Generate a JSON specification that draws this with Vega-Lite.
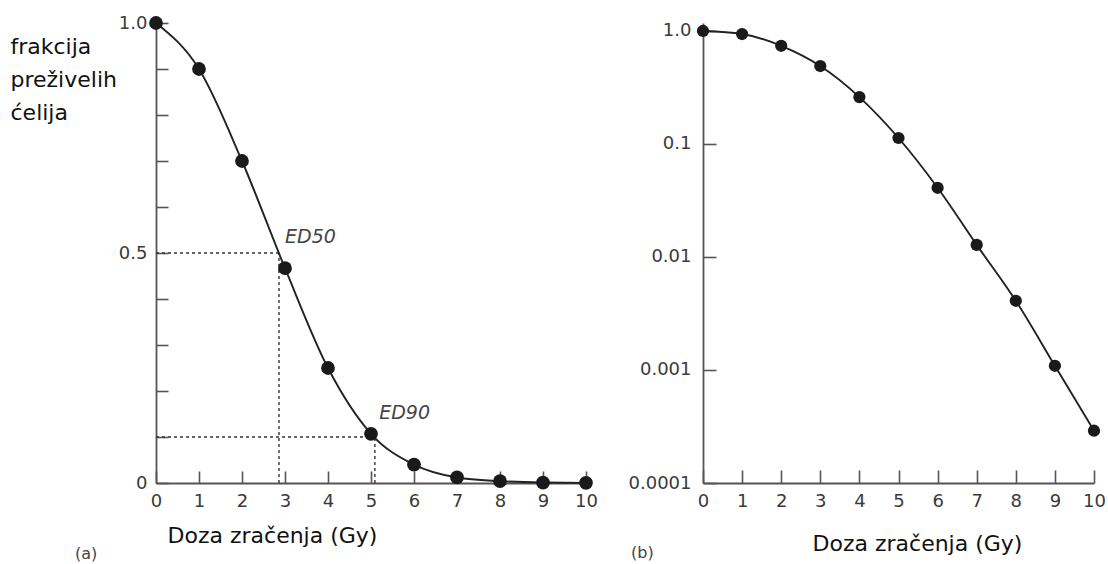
{
  "$schema": "https://vega.github.io/schema/vega-lite/v6.json",
  "padding": {"left": 10, "top": 14, "right": 0, "bottom": 0},
  "spacing": 30,
  "background": "white",
  "config": {
    "view": {"stroke": null},
    "axis": {
      "grid": false,
      "labelFlush": false,
      "domainColor": "#555",
      "domainWidth": 1.8,
      "tickColor": "#555",
      "tickWidth": 1.6,
      "labelFont": "DejaVu Sans",
      "labelFontSize": 18,
      "labelColor": "#3a3a3a",
      "titleFont": "DejaVu Sans",
      "titleFontSize": 22,
      "titleFontWeight": "normal",
      "titleColor": "#111"
    }
  },
  "resolve": {"scale": {"x": "independent", "y": "independent"}},
  "datasets": {
    "surv": [
      {"dose": 0, "a": 1.0, "b": 1.0},
      {"dose": 1, "a": 0.9, "b": 0.94},
      {"dose": 2, "a": 0.7, "b": 0.74},
      {"dose": 3, "a": 0.467, "b": 0.49},
      {"dose": 4, "a": 0.25, "b": 0.26},
      {"dose": 5, "a": 0.107, "b": 0.113},
      {"dose": 6, "a": 0.04, "b": 0.041},
      {"dose": 7, "a": 0.012, "b": 0.0128},
      {"dose": 8, "a": 0.004, "b": 0.0041},
      {"dose": 9, "a": 0.001, "b": 0.00109},
      {"dose": 10, "a": 0.0003, "b": 0.00029}
    ],
    "guides": [
      {"x": 0, "x2": 2.86, "y": 0.5, "y2": 0.5},
      {"x": 2.86, "x2": 2.86, "y": 0, "y2": 0.5},
      {"x": 0, "x2": 5.09, "y": 0.1, "y2": 0.1},
      {"x": 5.09, "x2": 5.09, "y": 0, "y2": 0.1}
    ],
    "ed": [
      {"label": "ED50", "dose": 3.0, "frac": 0.522},
      {"label": "ED90", "dose": 5.19, "frac": 0.139}
    ]
  },
  "hconcat": [
    {
      "width": 430,
      "height": 460,
      "title": {"text": "(a)", "orient": "bottom", "anchor": "start", "frame": "bounds", "offset": 0, "dx": 65, "font": "DejaVu Sans", "fontSize": 16, "fontWeight": "normal", "color": "#444"},
      "layer": [
        {
          "data": {"name": "guides"},
          "mark": {"type": "rule", "strokeDash": [3, 3], "strokeWidth": 1.4, "color": "#333"},
          "encoding": {
            "x": {"field": "x", "type": "quantitative", "scale": {"domain": [0, 10], "nice": false}, "axis": {"values": [0,1,2,3,4,5,6,7,8,9,10], "tickSize": -12, "labelPadding": 21, "title": "Doza zračenja (Gy)", "titleX": 116, "titleY": 59, "titleBaseline": "alphabetic"}},
            "x2": {"field": "x2"},
            "y": {"field": "y", "type": "quantitative", "scale": {"domain": [0, 1], "nice": false}, "axis": {"values": [0,0.1,0.2,0.3,0.4,0.5,0.6,0.7,0.8,0.9,1], "tickSize": -12, "labelPadding": 21, "labelExpr": "datum.value == 0 ? '0' : (datum.value == 0.5 ? '0.5' : (datum.value == 1 ? '1.0' : ''))", "title": ["frakcija", "preživelih", "ćelija"], "titleAngle": 0, "titleAlign": "left", "titleBaseline": "alphabetic", "titleX": -146, "titleY": 30, "titleLineHeight": 33}},
            "y2": {"field": "y2"}
          }
        },
        {
          "data": {"name": "surv"},
          "mark": {"type": "line", "interpolate": "monotone", "color": "#222", "strokeWidth": 1.9},
          "encoding": {
            "x": {"field": "dose", "type": "quantitative"},
            "y": {"field": "a", "type": "quantitative"}
          }
        },
        {
          "data": {"name": "surv"},
          "mark": {"type": "circle", "color": "#1a1a1a", "opacity": 1, "size": 190},
          "encoding": {
            "x": {"field": "dose", "type": "quantitative"},
            "y": {"field": "a", "type": "quantitative"}
          }
        },
        {
          "data": {"name": "ed"},
          "mark": {"type": "text", "align": "left", "baseline": "alphabetic", "font": "DejaVu Sans", "fontStyle": "italic", "fontSize": 19, "color": "#444"},
          "encoding": {
            "x": {"field": "dose", "type": "quantitative"},
            "y": {"field": "frac", "type": "quantitative"},
            "text": {"field": "label"}
          }
        }
      ]
    },
    {
      "width": 391,
      "height": 460,
      "title": {"text": "(b)", "orient": "bottom", "anchor": "start", "frame": "bounds", "offset": -9, "dx": 3, "font": "DejaVu Sans", "fontSize": 16, "fontWeight": "normal", "color": "#444"},
      "data": {"name": "surv"},
      "encoding": {
        "x": {"field": "dose", "type": "quantitative", "scale": {"domain": [0, 10], "nice": false}, "axis": {"values": [0,1,2,3,4,5,6,7,8,9,10], "tickSize": -13, "labelPadding": 22, "title": "Doza zračenja (Gy)", "titleX": 214, "titleY": 67, "titleBaseline": "alphabetic"}},
        "y": {"field": "b", "type": "quantitative", "scale": {"type": "log", "domain": [0.0001, 1.177], "nice": false}, "axis": {"values": [0.0001, 0.001, 0.01, 0.1, 1], "tickSize": -13, "labelPadding": 25, "labelExpr": "datum.value == 1 ? '1.0' : (datum.value == 0.1 ? '0.1' : (datum.value == 0.01 ? '0.01' : (datum.value == 0.001 ? '0.001' : '0.0001')))", "title": null}}
      },
      "layer": [
        {"mark": {"type": "line", "interpolate": "monotone", "color": "#222", "strokeWidth": 1.9}},
        {"mark": {"type": "circle", "color": "#1a1a1a", "opacity": 1, "size": 150}}
      ]
    }
  ]
}
